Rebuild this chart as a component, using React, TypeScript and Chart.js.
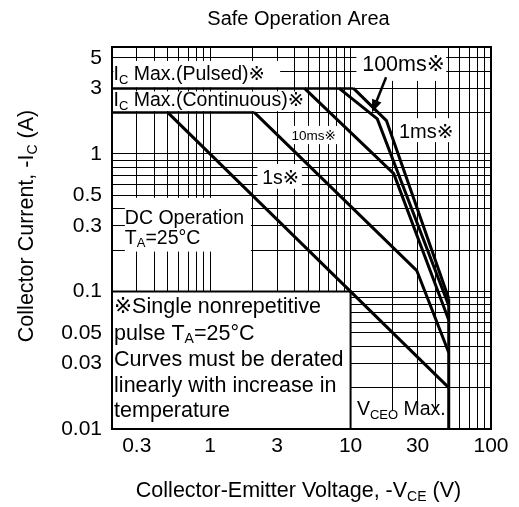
import React, { useEffect, useRef } from 'react';
import { Chart, registerables } from 'chart.js';

Chart.register(...registerables);

const FONT = "'Liberation Sans', Arial, 'DejaVu Sans', 'Noto Sans CJK JP', sans-serif";

// ---- Data (V in volts, I in amperes) ----
const dcV = [0.5, 50];
const dcI = [2, 0.02];
const s1V = [2.07, 29.6, 50];
const s1I = [2, 0.142, 0.036];
const ms10V = [4.7, 20.3, 50];
const ms10I = [3, 0.72, 0.062];
const ms100V = [8.3, 15.5, 50];
const ms100I = [3, 1.8, 0.079];
const ms1V = [10.5, 18, 50];
const ms1I = [3, 1.75, 0.089];
const pulsedV = [0.2, 10.5];
const pulsedI = [3, 3];
const contV = [0.2, 2.07];
const contI = [2, 2];
const vceoV = [50, 50];
const vceoI = [0.089, 0.01];

const xTickLabels = [0.3, 1, 3, 10, 30, 100];
const yTickLabels = [0.01, 0.03, 0.05, 0.1, 0.3, 0.5, 1, 3, 5];
const X_MIN = 0.2;
const X_MAX = 100;
const Y_MIN = 0.01;
const Y_MAX = 6;

const pts = (xs: number[], ys: number[]) => xs.map((x, i) => ({ x, y: ys[i] }));

function logGrid(min: number, max: number) {
  const out: number[] = [];
  for (let e = -3; e <= 3; e++) {
    for (let m = 1; m <= 9; m++) {
      const v = +(m * Math.pow(10, e)).toPrecision(6);
      if (v >= min * 0.9999 && v <= max * 1.0001) out.push(v);
    }
  }
  return out;
}

const has = (arr: number[], v: number) => arr.some((a) => Math.abs(a - v) / a < 1e-6);

type Part = [string, boolean?];

function rich(ctx: CanvasRenderingContext2D, x: number, y: number, parts: Part[], size: number, align: 'left' | 'center' = 'left') {
  const subSize = Math.round(size * 0.66);
  let total = 0;
  for (const [t, sub] of parts) {
    ctx.font = `${sub ? subSize : size}px ${FONT}`;
    total += ctx.measureText(t).width;
  }
  let cx = align === 'center' ? x - total / 2 : x;
  ctx.textAlign = 'left';
  ctx.textBaseline = 'alphabetic';
  for (const [t, sub] of parts) {
    ctx.font = `${sub ? subSize : size}px ${FONT}`;
    ctx.fillText(t, cx, sub ? y + size * 0.18 : y);
    cx += ctx.measureText(t).width;
  }
}

// white label boxes, in data coordinates [x0, x1, y0, y1]
const whiteBoxes: number[][] = [
  [0.2, 3.15, 3.05, 4.75], // Ic pulsed
  [0.2, 4.9, 2.05, 2.85], // Ic continuous
  [11, 48, 3.4, 6], // 100ms
  [21.4, 56, 1.22, 1.82], // 1ms
  [3.66, 8.2, 1.18, 1.6], // 10ms
  [2.17, 4.5, 0.558, 0.846], // 1s
  [0.247, 1.95, 0.195, 0.48], // DC operation
  [10.2, 49, 0.01, 0.0136], // VCEO
];

const annotPlugin = {
  id: 'annot',
  beforeDatasetsDraw(chart: any) {
    const { ctx, chartArea: ca, scales } = chart;
    const xs = scales.x;
    const ys = scales.y;
    ctx.save();
    ctx.fillStyle = '#fff';
    for (const [x0, x1, y0, y1] of whiteBoxes) {
      const px0 = Math.max(xs.getPixelForValue(x0), ca.left + 1.5);
      const px1 = Math.min(xs.getPixelForValue(x1), ca.right - 1);
      const py0 = Math.max(ys.getPixelForValue(y1), ca.top + 1);
      const py1 = Math.min(ys.getPixelForValue(y0), ca.bottom - 1);
      ctx.fillRect(px0, py0, px1 - px0, py1 - py0);
    }
    // note box
    const nx1 = xs.getPixelForValue(10);
    const ny0 = ys.getPixelForValue(0.1);
    ctx.fillRect(ca.left, ny0, nx1 - ca.left, ca.bottom - ny0);
    ctx.strokeStyle = '#000';
    ctx.lineWidth = 2;
    ctx.beginPath();
    ctx.moveTo(ca.left, ny0);
    ctx.lineTo(nx1, ny0);
    ctx.lineTo(nx1, ca.bottom);
    ctx.stroke();
    // border
    ctx.strokeRect(ca.left, ca.top, ca.right - ca.left, ca.bottom - ca.top);
    ctx.restore();
  },
  afterDatasetsDraw(chart: any) {
    const { ctx, chartArea: ca, scales } = chart;
    const xs = scales.x;
    const ys = scales.y;
    const X = (v: number) => xs.getPixelForValue(v);
    const Y = (v: number) => ys.getPixelForValue(v);
    ctx.save();
    ctx.fillStyle = '#000';

    rich(ctx, X(0.205), Y(3.44), [['I'], ['C', true], [' Max.(Pulsed)※']], 19.5);
    rich(ctx, X(0.205), Y(2.23), [['I'], ['C', true], [' Max.(Continuous)※']], 19.5);
    rich(ctx, X(12.1), Y(4.0), [['100ms※']], 21.5);
    rich(ctx, X(22.1), Y(1.31), [['1ms※']], 20);
    rich(ctx, X(3.8), Y(1.26), [['10ms※']], 13.5);
    rich(ctx, X(2.35), Y(0.606), [['1s※']], 19.5);
    rich(ctx, X(0.247), Y(0.311), [['DC Operation']], 19.5);
    rich(ctx, X(0.247), Y(0.223), [['T'], ['A', true], ['=25°C']], 19.5);

    const noteX = X(0.207);
    const ns = 21.5;
    rich(ctx, noteX, Y(0.0692), [['※Single nonrepetitive']], ns);
    rich(ctx, noteX, Y(0.0447), [['pulse T'], ['A', true], ['=25°C']], ns);
    rich(ctx, noteX, Y(0.0286), [['Curves must be derated']], ns);
    rich(ctx, noteX, Y(0.0185), [['linearly with increase in']], ns);
    rich(ctx, noteX, Y(0.0122), [['temperature']], ns);

    rich(ctx, X(11.1), Y(0.0126), [['V'], ['CEO', true], [' Max.']], 19.5);

    // arrow from 100ms label
    const ax0 = X(17.9), ay0 = Y(3.62);
    const ax1 = X(14.2), ay1 = Y(2.0);
    const ang = Math.atan2(ay1 - ay0, ax1 - ax0);
    ctx.strokeStyle = '#000';
    ctx.lineWidth = 2.5;
    ctx.beginPath();
    ctx.moveTo(ax0, ay0);
    ctx.lineTo(ax1 - 8 * Math.cos(ang), ay1 - 8 * Math.sin(ang));
    ctx.stroke();
    ctx.beginPath();
    ctx.moveTo(ax1, ay1);
    ctx.lineTo(ax1 - 13 * Math.cos(ang) + 5 * Math.sin(ang), ay1 - 13 * Math.sin(ang) - 5 * Math.cos(ang));
    ctx.lineTo(ax1 - 13 * Math.cos(ang) - 5 * Math.sin(ang), ay1 - 13 * Math.sin(ang) + 5 * Math.cos(ang));
    ctx.closePath();
    ctx.fill();

    // title
    const cx = (ca.left + ca.right) / 2;
    rich(ctx, cx - 3, 25, [['Safe Operation Area']], 20, 'center');
    // x title
    rich(ctx, cx - 3, 497, [['Collector-Emitter Voltage, -V'], ['CE', true], [' (V)']], 21.5, 'center');
    // y title
    ctx.translate(33, 226);
    ctx.rotate(-Math.PI / 2);
    rich(ctx, 0, 0, [['Collector Current, -I'], ['C', true], [' (A)']], 21.5, 'center');
    ctx.restore();
  },
};

export default function App() {
  const ref = useRef<HTMLCanvasElement | null>(null);
  useEffect(() => {
    if (!ref.current) return;
    const line = (d: { x: number; y: number }[], w = 3) => ({
      data: d,
      borderColor: '#000',
      backgroundColor: '#000',
      borderWidth: w,
      pointRadius: 0,
      fill: false,
      tension: 0,
      borderJoinStyle: 'miter' as const,
    });
    const chart = new Chart(ref.current, {
      type: 'line',
      data: {
        datasets: [
          { label: 'DC', ...line(pts(dcV, dcI)) },
          { label: '1s', ...line(pts(s1V, s1I)) },
          { label: '10ms', ...line(pts(ms10V, ms10I)) },
          { label: '100ms', ...line(pts(ms100V, ms100I)) },
          { label: '1ms', ...line(pts(ms1V, ms1I)) },
          { label: 'Ic pulsed', ...line(pts(pulsedV, pulsedI), 2.5) },
          { label: 'Ic continuous', ...line(pts(contV, contI), 2.5) },
          { label: 'VCEO', ...line(pts(vceoV, vceoI), 3) },
        ],
      },
      options: {
        animation: false,
        responsive: false,
        devicePixelRatio: 1,
        layout: { padding: { top: 47, right: 28, left: 0, bottom: 0 } },
        plugins: { legend: { display: false }, tooltip: { enabled: false }, title: { display: false } },
        scales: {
          x: {
            type: 'logarithmic',
            min: X_MIN,
            max: X_MAX,
            afterBuildTicks: (s: any) => {
              s.ticks = logGrid(X_MIN, X_MAX).map((v) => ({ value: v }));
            },
            afterFit: (s: any) => {
              s.height = 78;
            },
            ticks: {
              autoSkip: false,
              maxRotation: 0,
              padding: 5,
              color: '#000',
              font: { family: FONT, size: 21 },
              callback: (v: any) => (has(xTickLabels, Number(v)) ? String(Number(v)) : ''),
            },
            grid: { color: '#000', lineWidth: 1, drawTicks: false },
            border: { color: '#000', width: 2 },
          },
          y: {
            type: 'logarithmic',
            min: Y_MIN,
            max: Y_MAX,
            afterBuildTicks: (s: any) => {
              s.ticks = logGrid(Y_MIN, Y_MAX).map((v) => ({ value: v }));
            },
            afterFit: (s: any) => {
              s.width = 112;
            },
            ticks: {
              autoSkip: false,
              padding: 10,
              color: '#000',
              font: { family: FONT, size: 21 },
              callback: (v: any) => (has(yTickLabels, Number(v)) ? String(Number(v)) : ''),
            },
            grid: { color: '#000', lineWidth: 1, drawTicks: false },
            border: { color: '#000', width: 2 },
          },
        },
      },
      plugins: [annotPlugin],
    });
    return () => chart.destroy();
  }, []);
  return (
    <div style={{ position: 'absolute', left: 0, top: 0, width: 519, height: 507, background: '#fff' }}>
      <canvas ref={ref} width={519} height={507} style={{ display: 'block', width: 519, height: 507 }} />
    </div>
  );
}
